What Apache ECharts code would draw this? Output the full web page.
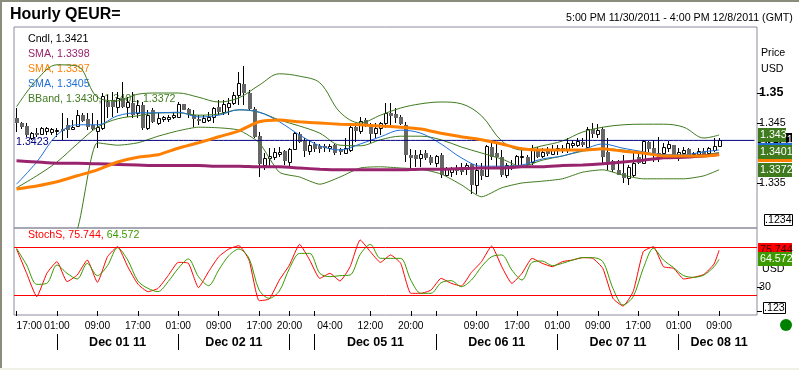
<!DOCTYPE html>
<html><head><meta charset="utf-8">
<style>html,body{margin:0;padding:0;background:#fff}#c{width:799px;height:370px}</style>
<script src="https://cdn.jsdelivr.net/npm/echarts@6/dist/echarts.min.js"></script>
</head><body><div id="c"></div>
<script>
const opens=[1.3458,1.3450,1.3445,1.3425,1.3433,1.3432,1.3437,1.3435,1.3437,1.3440,1.3447,1.3440,1.3445,1.3463,1.3457,1.3447,1.3437,1.3442,1.3485,1.3488,1.3477,1.3492,1.3477,1.3483,1.3467,1.3480,1.3442,1.3472,1.3450,1.3457,1.3457,1.3460,1.3460,1.3482,1.3473,1.3463,1.3457,1.3452,1.3455,1.3460,1.3477,1.3468,1.3477,1.3483,1.3497,1.3515,1.3500,1.3473,1.3428,1.3380,1.3392,1.3393,1.3398,1.3403,1.3385,1.3407,1.3432,1.3420,1.3403,1.3415,1.3412,1.3412,1.3408,1.3413,1.3407,1.3400,1.3405,1.3443,1.3437,1.3455,1.3443,1.3433,1.3442,1.3450,1.3467,1.3465,1.3460,1.3447,1.3397,1.3397,1.3392,1.3400,1.3393,1.3383,1.3397,1.3363,1.3368,1.3375,1.3373,1.3373,1.3382,1.3347,1.3372,1.3362,1.3410,1.3400,1.3393,1.3363,1.3380,1.3378,1.3393,1.3393,1.3385,1.3405,1.3395,1.3405,1.3398,1.3405,1.3408,1.3407,1.3413,1.3413,1.3418,1.3410,1.3440,1.3432,1.3440,1.3402,1.3387,1.3372,1.3367,1.3358,1.3363,1.3393,1.3383,1.3418,1.3408,1.3400,1.3400,1.3408,1.3413,1.3397,1.3400,1.3407,1.3398,1.3398,1.3403,1.3400,1.3405,1.3412];
const closes=[1.3450,1.3443,1.3430,1.3433,1.3430,1.3442,1.3442,1.3440,1.3438,1.3437,1.3438,1.3443,1.3463,1.3453,1.3443,1.3440,1.3443,1.3495,1.3477,1.3477,1.3492,1.3477,1.3485,1.3463,1.3480,1.3442,1.3463,1.3452,1.3458,1.3460,1.3460,1.3463,1.3482,1.3472,1.3465,1.3457,1.3453,1.3458,1.3460,1.3475,1.3468,1.3482,1.3483,1.3497,1.3517,1.3500,1.3473,1.3427,1.3382,1.3392,1.3395,1.3402,1.3402,1.3387,1.3407,1.3433,1.3418,1.3403,1.3413,1.3407,1.3407,1.3408,1.3412,1.3400,1.3402,1.3408,1.3443,1.3437,1.3453,1.3447,1.3432,1.3442,1.3450,1.3467,1.3462,1.3458,1.3448,1.3397,1.3392,1.3390,1.3398,1.3392,1.3383,1.3395,1.3363,1.3373,1.3373,1.3370,1.3368,1.3380,1.3347,1.3372,1.3362,1.3412,1.3393,1.3393,1.3363,1.3380,1.3375,1.3395,1.3395,1.3380,1.3405,1.3393,1.3402,1.3398,1.3405,1.3408,1.3405,1.3417,1.3417,1.3420,1.3413,1.3440,1.3432,1.3438,1.3393,1.3385,1.3372,1.3363,1.3358,1.3377,1.3383,1.3383,1.3420,1.3407,1.3400,1.3393,1.3410,1.3415,1.3397,1.3402,1.3405,1.3397,1.3400,1.3403,1.3397,1.3408,1.3412,1.3421];
const highs=[1.3475,1.3452,1.3450,1.3435,1.3442,1.3443,1.3443,1.3442,1.3442,1.3467,1.3458,1.3455,1.3472,1.3467,1.3467,1.3467,1.3455,1.3500,1.3497,1.3502,1.3502,1.3518,1.3493,1.3502,1.3488,1.3485,1.3472,1.3475,1.3467,1.3462,1.3463,1.3468,1.3485,1.3482,1.3475,1.3472,1.3463,1.3463,1.3468,1.3477,1.3488,1.3488,1.3492,1.3502,1.3535,1.3545,1.3505,1.3477,1.3435,1.3400,1.3408,1.3408,1.3410,1.3405,1.3408,1.3435,1.3435,1.3425,1.3422,1.3418,1.3415,1.3415,1.3415,1.3415,1.3408,1.3425,1.3447,1.3450,1.3460,1.3458,1.3450,1.3450,1.3452,1.3483,1.3483,1.3475,1.3463,1.3452,1.3407,1.3405,1.3405,1.3405,1.3397,1.3397,1.3400,1.3377,1.3377,1.3380,1.3383,1.3383,1.3383,1.3383,1.3383,1.3413,1.3417,1.3415,1.3405,1.3383,1.3388,1.3397,1.3405,1.3397,1.3413,1.3410,1.3408,1.3410,1.3413,1.3413,1.3413,1.3425,1.3422,1.3425,1.3425,1.3443,1.3450,1.3448,1.3443,1.3425,1.3388,1.3388,1.3397,1.3380,1.3400,1.3400,1.3422,1.3420,1.3422,1.3427,1.3417,1.3420,1.3413,1.3408,1.3410,1.3408,1.3402,1.3408,1.3408,1.3410,1.3425,1.3425];
const lows=[1.3435,1.3440,1.3427,1.3422,1.3427,1.3430,1.3430,1.3430,1.3427,1.3422,1.3425,1.3438,1.3443,1.3452,1.3438,1.3438,1.3408,1.3438,1.3458,1.3460,1.3467,1.3475,1.3460,1.3458,1.3458,1.3438,1.3438,1.3450,1.3447,1.3452,1.3452,1.3457,1.3458,1.3472,1.3458,1.3443,1.3447,1.3450,1.3452,1.3450,1.3463,1.3463,1.3463,1.3480,1.3480,1.3480,1.3472,1.3425,1.3360,1.3372,1.3377,1.3388,1.3393,1.3380,1.3378,1.3405,1.3417,1.3393,1.3397,1.3402,1.3400,1.3402,1.3402,1.3397,1.3397,1.3400,1.3402,1.3418,1.3432,1.3443,1.3417,1.3425,1.3430,1.3442,1.3447,1.3450,1.3447,1.3385,1.3375,1.3377,1.3377,1.3388,1.3380,1.3377,1.3358,1.3360,1.3360,1.3363,1.3363,1.3363,1.3332,1.3332,1.3355,1.3360,1.3388,1.3377,1.3360,1.3358,1.3372,1.3377,1.3380,1.3377,1.3380,1.3392,1.3392,1.3395,1.3397,1.3397,1.3400,1.3400,1.3408,1.3410,1.3410,1.3408,1.3425,1.3425,1.3380,1.3372,1.3368,1.3363,1.3350,1.3347,1.3360,1.3382,1.3382,1.3402,1.3385,1.3385,1.3392,1.3402,1.3393,1.3387,1.3392,1.3395,1.3393,1.3393,1.3397,1.3397,1.3402,1.3410];
const lineBars=[0,4,8,12,16,20,24,28,32,36,40,44,48,52,56,60,64,68,72,76,80,84,88,92,96,100,104,108,112,116,120,124,128,132,136,139];
const bandUpper=[1.3477,1.3522,1.3547,1.3545,1.3493,1.3487,1.3498,1.3500,1.3500,1.3493,1.3485,1.3492,1.3513,1.3532,1.3528,1.3517,1.3468,1.3450,1.3463,1.3475,1.3482,1.3485,1.3482,1.3462,1.3420,1.3405,1.3412,1.3420,1.3435,1.3443,1.3447,1.3448,1.3448,1.3443,1.3425,1.3430];
const bandMid=[1.3342,1.3362,1.3385,1.3415,1.3443,1.3457,1.3462,1.3467,1.3467,1.3463,1.3465,1.3472,1.3468,1.3455,1.3445,1.3433,1.3413,1.3412,1.3422,1.3428,1.3428,1.3422,1.3410,1.3400,1.3390,1.3378,1.3388,1.3395,1.3403,1.3407,1.3405,1.3400,1.3397,1.3395,1.3397,1.3401];
const bandLower=[1.3205,1.3202,1.3225,1.3272,1.3417,1.3413,1.3417,1.3428,1.3437,1.3443,1.3442,1.3438,1.3417,1.3368,1.3360,1.3348,1.3360,1.3375,1.3377,1.3375,1.3373,1.3365,1.3347,1.3327,1.3342,1.3350,1.3353,1.3357,1.3368,1.3372,1.3363,1.3357,1.3357,1.3357,1.3362,1.3372];
const smaFast=[1.3348,1.3385,1.3430,1.3447,1.3447,1.3462,1.3467,1.3467,1.3468,1.3460,1.3463,1.3472,1.3468,1.3452,1.3430,1.3412,1.3405,1.3415,1.3427,1.3438,1.3433,1.3415,1.3392,1.3378,1.3378,1.3380,1.3390,1.3395,1.3405,1.3415,1.3408,1.3402,1.3397,1.3397,1.3402,1.3405];
const smaMid=[1.3340,1.3345,1.3352,1.3362,1.3372,1.3385,1.3393,1.3397,1.3408,1.3417,1.3427,1.3437,1.3452,1.3455,1.3452,1.3450,1.3448,1.3447,1.3445,1.3443,1.3440,1.3433,1.3427,1.3422,1.3415,1.3407,1.3405,1.3405,1.3405,1.3407,1.3403,1.3400,1.3395,1.3395,1.3395,1.3397];
const smaSlow=[1.3387,1.3385,1.3383,1.3383,1.3382,1.3381,1.3380,1.3379,1.3379,1.3379,1.3378,1.3378,1.3377,1.3377,1.3375,1.3373,1.3372,1.3372,1.3372,1.3372,1.3373,1.3373,1.3374,1.3375,1.3375,1.3377,1.3377,1.3379,1.3380,1.3382,1.3385,1.3388,1.3392,1.3393,1.3395,1.3398];
const stochBars=[0,2,4,6,8,10,12,14,16,18,20,22,24,26,28,30,32,34,36,38,40,42,44,46,48,50,52,54,56,58,60,62,64,66,68,70,72,74,76,78,80,82,84,86,88,90,92,94,96,98,100,102,104,106,108,110,112,114,116,118,120,122,124,126,128,130,132,134,136,138,139];
const stochK=[77.5,47.1,17.9,47.1,61.7,36.7,45,63.7,35.8,67.9,80.4,55.4,33.7,24.2,28.3,44.2,60.8,59.6,29.2,49.2,67.9,77.5,81.7,63.7,12.9,15,38.7,57.5,83.3,63.7,40.8,47.1,37.5,55.4,88.8,74.2,60.8,70,59.6,22.1,22.1,26.2,40.8,34.6,31.2,48.3,61.7,81.2,55.4,34.6,47.1,65.8,59.6,55.4,61.7,63.7,66.7,65.8,53.3,15.8,6.2,24.2,74.2,80.4,55.4,53.3,40,42.1,45.8,58.7,75.744];
const stochD=[78.3,57.5,33.3,34.6,57.5,47.1,40,59.6,44.2,56.7,79.2,63.7,37.5,28.3,24.2,36.7,53.3,65,42.9,31.7,51.2,69.2,77.5,65.8,26.2,15.8,25,53.3,72,72,47.1,42.9,44.2,45,70.8,83.3,65.8,65.8,65.8,38.7,22.1,22.1,35.4,37.9,30.4,38.7,55.4,67.9,70,51.2,38.7,60.8,62.5,56.7,59.6,63.7,66.7,66.7,61.7,28.3,7.5,17.9,53.3,78.3,63.7,54.2,44.2,42.1,45,55.4,64.572];
const lastPrice=1.3421, stochLevels=[20,80];
const priceTickValues=[1.335,1.345,1.35], stochLabelValues=[30], stochTickValues=[0,30];
const timeLabels={0:'17:00',8:'01:00',16:'09:00',24:'17:00',32:'01:00',40:'09:00',48:'17:00',54:'20:00',62:'04:00',70:'12:00',78:'20:00',91:'09:00',99:'17:00',107:'01:00',115:'09:00',123:'17:00',131:'01:00',139:'09:00'};
const timeTickBars=[0,8,16,24,32,40,48,54,59,70,78,83,91,99,107,115,123,131,139];
const dateLabels={20:'Dec 01 11',43:'Dec 02 11',71:'Dec 05 11',95:'Dec 06 11',119:'Dec 07 11',139:'Dec 08 11'};
const dateSeparatorBars=[8,32,54,59,83,107,131];
const barCount=147;
const priceTags=[['1.3398',1.3398,'#99246e','#fff',34],['1.3421',1.3421,'#000','#fff',34],['1.3405',1.3405,'#1e6fd9','#fff',34],['1.3397',1.3397,'#ff8000','#fff',34],['1.343',1.3430,'#3f7a1e','#fff',28],['1.3401',1.3401,'#3f7a1e','#fff',34],['1.3372',1.3372,'#3f7a1e','#fff',34]];
const stochTags=[['75.744',75.744,'#ff0000','#300',34],['64.572',64.572,'#3c9a00','#fff',34]];

const FONT='"Liberation Sans", Arial, sans-serif';
const F=10.67;
const cats=Array.from({length:barCount},(_,i)=>timeLabels[i]||'');
const dateCats=Array.from({length:barCount},(_,i)=>dateLabels[i]||'');
const zip=(xs,ys)=>xs.map((x,i)=>[x,ys[i]]);
const candles=opens.map((o,i)=>[i,o,closes[i],lows[i],highs[i]]);

function renderCandle(params,api){
  const i=api.value(0),o=api.value(1),c=api.value(2),l=api.value(3),h=api.value(4);
  const n=Math.round(api.coord([i,o])[0]-0.5);
  const yo=api.coord([i,o])[1],yc=api.coord([i,c])[1],yl=api.coord([i,l])[1],yh=api.coord([i,h])[1];
  const top=Math.round(Math.min(yo,yc)),bot=Math.round(Math.max(yo,yc));
  const wick={type:'rect',shape:{x:n,y:Math.round(yh),width:1,height:Math.max(1,Math.round(yl)-Math.round(yh))},style:{fill:'#000'}};
  const body=c>=o
    ?{type:'rect',shape:{x:n-0.5,y:top+0.5,width:3,height:Math.max(1,bot-top)},style:{fill:'#fff',stroke:'#000',lineWidth:1}}
    :{type:'rect',shape:{x:n-1,y:top,width:4,height:Math.max(1,bot-top)},style:{fill:'#666'}};
  return {type:'group',children:[wick,body]};
}
function tagRenderer(tags){
  return function(params,api){
    const t=tags[params.dataIndex];
    const cs=params.coordSys;
    const x=cs.x+cs.width+1;
    const y=Math.round(api.coord([0,t[1]])[1]);
    return {type:'group',children:[
      {type:'rect',shape:{x:x,y:y-7,width:t[4],height:14},style:{fill:t[2]}},
      {type:'text',style:{x:x+2,y:y,text:t[0],fill:t[3],font:F+'px '+FONT,textVerticalAlign:'middle'}}
    ]};
  };
}
const txt=(text,left,top,color,extra)=>Object.assign({text,left,top,padding:0,z:1,textStyle:Object.assign({fontFamily:FONT,fontSize:F,fontWeight:'normal',color,lineHeight:12},extra||{})});
const line=(data,color,width,x,y,smooth)=>({type:'line',data,xAxisIndex:x||0,yAxisIndex:y||0,showSymbol:false,symbol:'none',smooth:smooth||false,lineStyle:{color,width},itemStyle:{color},silent:true,animation:false});

const chart=echarts.init(document.getElementById('c'),null,{renderer:'canvas'});
chart.setOption({
  animation:false,backgroundColor:'#fff',
  title:[
    txt('Hourly QEUR=',10,6,'#000',{fontSize:16,fontWeight:'bold',lineHeight:18}),
    txt('5:00 PM 11/30/2011 - 4:00 PM 12/8/2011 (GMT)',566,12,'#000'),
    txt('Cndl, 1.3421',28,33,'#000'),
    txt('SMA, 1.3398',28,48,'#99246e'),
    txt('SMA, 1.3397',28,63,'#ff8000'),
    txt('SMA, 1.3405',28,78,'#1e6fd9'),
    txt('BBand, 1.3430, 1.3401, 1.3372',28,93,'#3f7a1e'),
    txt('1.3423',16,136,'#000080'),
    txt('Price',761,47,'#000'),
    txt('USD',761,63,'#000'),
    txt('USD',762,263,'#000'),
    Object.assign(txt('.1234',764,214,'#000'),{borderColor:'#000',borderWidth:1,padding:[0,1,0,1],backgroundColor:'#fff',z:5}),
    Object.assign(txt('.123',763,302,'#000'),{borderColor:'#000',borderWidth:1,padding:[0,1,0,1],backgroundColor:'#fff',z:5}),
    {text:'{r|StochS, 75.744,} {g|64.572}',left:28,top:230,padding:0,z:4,textStyle:{fontWeight:'normal',fontFamily:FONT,fontSize:F,rich:{r:{color:'#ff0000',fontFamily:FONT,fontSize:F,fontWeight:'normal'},g:{color:'#3c9a00',fontFamily:FONT,fontSize:F,fontWeight:'normal'}}}}
  ],
  graphic:[
    {type:'rect',shape:{x:0,y:0,width:799,height:2},style:{fill:'#8c8c7c'},silent:true},
    {type:'rect',shape:{x:0,y:0,width:2,height:370},style:{fill:'#8c8c7c'},silent:true},
    {type:'rect',shape:{x:0,y:368,width:799,height:2},style:{fill:'#f0f0e6'},silent:true},
    {type:'circle',shape:{cx:786,cy:325,r:6},style:{fill:'#008000'},silent:true}
  ],
  grid:[
    {left:14,top:27,width:743,height:201,show:true,borderColor:'#8c8c9c',borderWidth:1,backgroundColor:'transparent'},
    {left:14,top:228,width:743,height:87,show:true,borderColor:'#8c8c9c',borderWidth:1,backgroundColor:'transparent'}
  ],
  xAxis:[
    {type:'category',gridIndex:0,data:cats,axisLine:{show:false},axisTick:{show:false},axisLabel:{show:false},splitLine:{show:false}},
    {type:'category',gridIndex:1,data:cats,axisLine:{show:false},
      axisTick:{show:true,alignWithLabel:true,length:5,lineStyle:{color:'#000'},interval:(i)=>timeTickBars.includes(i)},
      axisLabel:{interval:(i)=>!!timeLabels[i],margin:6,color:'#000',fontFamily:FONT,fontSize:10.2,hideOverlap:false,alignMinLabel:'left'},splitLine:{show:false}},
    {type:'category',gridIndex:1,position:'bottom',offset:19,data:dateCats,axisLine:{show:false},
      axisTick:{show:true,alignWithLabel:true,length:16,lineStyle:{color:'#000'},interval:(i)=>dateSeparatorBars.includes(i)},
      axisLabel:{interval:(i)=>!!dateLabels[i],margin:2,color:'#000',fontFamily:FONT,fontSize:12.5,fontWeight:'bold',hideOverlap:false},splitLine:{show:false}}
  ],
  yAxis:[
    {type:'value',gridIndex:0,position:'right',min:1.3275,max:1.361,scale:true,axisLine:{show:false},splitLine:{show:false},
      axisTick:{show:true,length:5,lineStyle:{color:'#000'},customValues:priceTickValues},
      axisLabel:{customValues:priceTickValues,margin:2,color:'#000',fontFamily:FONT,fontSize:F,
        formatter:(v)=>v===1.35?'{b|1.35}':String(v),rich:{b:{fontFamily:FONT,fontSize:12.5,fontWeight:'bold',color:'#000'}}}},
    {type:'value',gridIndex:1,position:'right',min:-5,max:103.75,axisLine:{show:false},splitLine:{show:false},
      axisTick:{show:true,length:5,lineStyle:{color:'#000'},customValues:stochTickValues},
      axisLabel:{customValues:stochLabelValues,margin:2,color:'#000',fontFamily:FONT,fontSize:F}}
  ],
  series:[
    {type:'custom',name:'Cndl',xAxisIndex:0,yAxisIndex:0,data:candles,encode:{x:0,y:[1,2,3,4]},renderItem:renderCandle,silent:true,animation:false},
    line(zip(lineBars,bandUpper),'#3f7a1e',1,0,0,0.35),
    line(zip(lineBars,bandMid),'#3f7a1e',1,0,0,0.35),
    line(zip(lineBars,bandLower),'#3f7a1e',1,0,0,0.2),
    line(zip(lineBars,smaFast),'#1e6fd9',1,0,0,0.35),
    line(opens.map((_,i)=>i>=7?[i,lastPrice]:null).filter(Boolean).concat([[146,lastPrice]]),'#000080',1),
    line(zip(lineBars,smaSlow),'#99246e',3,0,0,0.2),
    line(zip(lineBars,smaMid),'#ff8000',3,0,0,0.2),
    {type:'custom',name:'priceTags',xAxisIndex:0,yAxisIndex:0,data:priceTags.map(t=>[0,t[1]]),encode:{x:0,y:1},renderItem:tagRenderer(priceTags),silent:true,z:5,clip:false},
    Object.assign(line(zip(stochBars,stochK),'#ff0000',1,1,1,0.15),{markLine:{silent:true,symbol:'none',animation:false,label:{show:false},lineStyle:{color:'#ff0000',width:1,type:'solid'},data:stochLevels.map(v=>({yAxis:v}))}}),
    line(zip(stochBars,stochD),'#3c9a00',1,1,1,0.3),
    {type:'custom',name:'stochTags',xAxisIndex:1,yAxisIndex:1,data:stochTags.map(t=>[0,t[1]]),encode:{x:0,y:1},renderItem:tagRenderer(stochTags),silent:true,z:5,clip:false}
  ]
});
</script></body></html>
